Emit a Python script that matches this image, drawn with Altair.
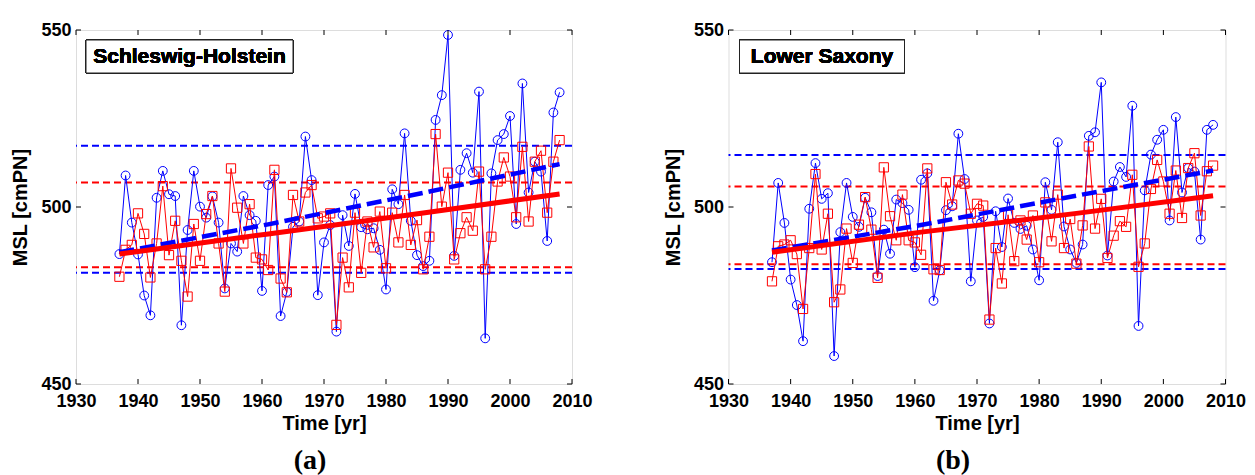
import altair as alt
import pandas as pd

years = list(range(1937, 2009))

sh_blue = [486.7, 508.9, 495.6, 486.6, 475.0, 469.4, 502.6, 510.2, 503.6, 503.1,
           466.6, 493.5, 510.2, 500.1, 497.0, 503.0, 495.6, 477.0, 489.7, 487.4,
           503.1, 497.7, 496.1, 476.3, 506.2, 508.6, 469.2, 476.0, 494.4, 495.9,
           519.9, 507.6, 475.1, 490.0, 494.9, 464.8, 497.7, 489.0, 503.7, 494.3,
           493.7, 494.0, 487.9, 476.7, 505.0, 500.8, 520.8, 496.1, 486.4, 483.3,
           484.8, 524.6, 531.6, 548.6, 486.2, 510.5, 515.2, 509.7, 532.6, 462.9,
           509.5, 518.9, 520.6, 525.7, 495.2, 534.9, 504.1, 512.8, 510.0, 490.4,
           526.7, 532.4]
sh_red = [480.3, 487.9, 489.3, 498.2, 492.4, 480.1, 489.7, 505.9, 486.4, 496.1,
          484.8, 474.7, 495.2, 484.8, 498.0, 503.1, 489.7, 476.1, 510.9, 499.8,
          489.7, 500.8, 485.7, 485.2, 482.2, 510.5, 479.8, 475.9, 503.4, 495.9,
          504.1, 506.2, 496.8, 497.3, 498.2, 466.7, 485.7, 477.3, 498.4, 481.4,
          495.9, 488.6, 498.7, 482.7, 498.4, 490.0, 503.4, 489.3, 496.3, 482.4,
          491.6, 520.6, 500.1, 509.7, 485.2, 492.6, 497.1, 493.3, 510.0, 482.4,
          491.6, 507.2, 514.0, 508.6, 497.1, 517.0, 495.9, 512.8, 515.9, 498.4,
          512.8, 518.9]
ls_blue = [484.4, 506.8, 495.5, 479.5, 472.3, 462.1, 499.5, 512.4, 502.3, 503.9,
           457.9, 492.9, 506.8, 497.2, 494.4, 502.6, 498.5, 480.5, 493.6, 486.8,
           502.1, 501.1, 499.2, 483.0, 507.7, 509.5, 473.5, 482.1, 499.1, 500.2,
           520.7, 507.9, 479.0, 496.2, 497.2, 467.1, 498.8, 488.7, 502.4, 495.5,
           493.8, 494.7, 488.0, 479.3, 507.0, 499.2, 518.3, 494.5, 488.0, 484.2,
           489.4, 520.1, 521.1, 535.2, 486.3, 507.2, 511.3, 508.5, 528.6, 466.4,
           504.7, 514.8, 519.0, 521.8, 496.2, 525.4, 504.1, 511.0, 510.0, 490.8,
           521.8, 523.2]
ls_red = [479.0, 488.9, 489.4, 490.6, 486.7, 471.2, 488.4, 509.3, 488.0, 498.1,
          473.1, 476.7, 493.9, 484.2, 495.0, 502.8, 493.6, 480.0, 511.2, 497.4,
          490.6, 503.5, 490.6, 490.0, 486.5, 510.9, 482.4, 482.2, 507.0, 500.7,
          507.5, 506.6, 498.1, 500.9, 500.4, 468.2, 488.4, 478.4, 497.8, 484.7,
          496.2, 490.8, 497.6, 484.4, 501.3, 490.3, 503.5, 488.4, 496.6, 484.0,
          494.8, 517.1, 493.9, 502.3, 485.6, 491.9, 496.0, 494.4, 509.1, 483.1,
          489.7, 505.1, 513.3, 507.2, 498.1, 510.3, 496.9, 511.0, 515.2, 497.6,
          510.1, 511.7]

trend_years = [1937, 1961, 1986, 2008]
sh_trend_blue = [487.2, 495.1, 504.0, 512.1]
sh_trend_red = [486.7, 492.4, 498.3, 503.7]
ls_trend_blue = [487.7, 494.9, 503.2, 510.3]
ls_trend_red = [487.2, 492.9, 498.2, 503.2]

sh_hlines_blue = [517.3, 481.4]
sh_hlines_red = [506.9, 483.0]
ls_hlines_blue = [514.7, 482.5]
ls_hlines_red = [505.8, 483.8]

x_ticks = [1930, 1940, 1950, 1960, 1970, 1980, 1990, 2000, 2010]
y_ticks = [450, 500, 550]
names = ["Schleswig-Holstein", "Lower Saxony"]
captions = ["(a)", "(b)"]

BLUE = "#0000ff"
RED = "#ff0000"
FONT = "Liberation Sans"
H = 354


def panel(W, blue, red, tb, tr, hb, hr, name, caption, box_x, box_w, cap_dx):
    xs = alt.Scale(domain=[1930, 2010], nice=False, zero=False)
    ys = alt.Scale(domain=[450, 550], nice=False, zero=False)
    xax = alt.Axis(values=x_ticks, format="d", ticks=False, domain=False, grid=False,
                   labelFont=FONT, labelFontSize=18, labelFontWeight="bold",
                   labelColor="black", labelPadding=8, labelFlush=False,
                   title="Time [yr]", titleFont=FONT, titleFontSize=20,
                   titleFontWeight="bold", titleColor="black", titlePadding=3)
    yax = alt.Axis(values=y_ticks, ticks=False, domain=False, grid=False,
                   labelFont=FONT, labelFontSize=18, labelFontWeight="bold",
                   labelColor="black", labelPadding=5, labelFlush=False,
                   title="MSL [cmPN]", titleFont=FONT, titleFontSize=20,
                   titleFontWeight="bold", titleColor="black", titlePadding=10)
    X = lambda f: alt.X(f, type="quantitative", scale=xs, axis=xax)
    Y = lambda f: alt.Y(f, type="quantitative", scale=ys, axis=yax)

    df = pd.DataFrame({"year": years, "blue": blue, "red": red})
    dtr = pd.DataFrame({"year": trend_years, "tb": tb, "tr": tr})
    dh = pd.DataFrame({"v": hb + hr, "c": [BLUE] * len(hb) + [RED] * len(hr)})
    dxt = pd.DataFrame({"t": x_ticks})
    dyt = pd.DataFrame({"t": y_ticks})

    hl = alt.Chart(dh).mark_rule(strokeWidth=2, strokeDash=[7, 4]).encode(
        y=Y("v"), color=alt.Color("c:N", scale=None))
    bl = alt.Chart(df).mark_line(color=BLUE, strokeWidth=1).encode(x=X("year"), y=Y("blue"))
    bp = alt.Chart(df).mark_point(shape="circle", filled=False, color=BLUE, size=78,
                                  strokeWidth=1, opacity=1).encode(x=X("year"), y=Y("blue"))
    rl = alt.Chart(df).mark_line(color=RED, strokeWidth=1).encode(x=X("year"), y=Y("red"))
    rp = alt.Chart(df).mark_point(shape="square", filled=False, color=RED, size=85,
                                  strokeWidth=1, opacity=1).encode(x=X("year"), y=Y("red"))
    tbl = alt.Chart(dtr).mark_line(color=BLUE, strokeWidth=4.5, strokeDash=[15, 6]).encode(
        x=X("year"), y=Y("tb"))
    trl = alt.Chart(dtr).mark_line(color=RED, strokeWidth=5).encode(x=X("year"), y=Y("tr"))

    xt_bot = alt.Chart(dxt).mark_rule(color="black", strokeWidth=1).encode(
        x=X("t"), y=alt.value(H), y2=alt.value(H - 5))
    xt_top = alt.Chart(dxt).mark_rule(color="black", strokeWidth=1).encode(
        x=X("t"), y=alt.value(0), y2=alt.value(5))
    yt_l = alt.Chart(dyt).mark_rule(color="black", strokeWidth=1).encode(
        y=Y("t"), x=alt.value(0), x2=alt.value(5))
    yt_r = alt.Chart(dyt).mark_rule(color="black", strokeWidth=1).encode(
        y=Y("t"), x=alt.value(W), x2=alt.value(W - 5))

    box = alt.Chart(dxt).mark_rect(fill="white", stroke="#222222", strokeWidth=1).encode(
        x=alt.value(box_x), x2=alt.value(box_x + box_w), y=alt.value(10), y2=alt.value(43))
    txt = alt.Chart(dxt).mark_text(font=FONT, fontSize=21, fontWeight="bold", color="black",
                                   align="center", baseline="middle").encode(
        x=alt.value(box_x + box_w / 2), y=alt.value(27), text=alt.value(name))

    return alt.layer(hl, bl, bp, rl, rp, tbl, trl, xt_bot, xt_top, yt_l, yt_r, box, txt).properties(
        width=W, height=H,
        title=alt.TitleParams(caption, orient="bottom", font="Liberation Serif", fontSize=28,
                              fontWeight="bold", color="black", frame="group",
                              anchor="middle", dx=cap_dx, offset=14))


pa = panel(496, sh_blue, sh_red, sh_trend_blue, sh_trend_red, sh_hlines_blue, sh_hlines_red,
           names[0], captions[0], 10, 207, -14)
pb = panel(497, ls_blue, ls_red, ls_trend_blue, ls_trend_red, ls_hlines_blue, ls_hlines_red,
           names[1], captions[1], 11, 165, -24)

chart = alt.hconcat(pa, pb, spacing=156.5, bounds="flush").properties(
    padding={"left": 10, "top": 20, "right": 5, "bottom": 0}
).configure_view(stroke="black", strokeWidth=1).configure(background="white")

chart.save("out.html", embed_options={"renderer": "svg", "actions": False})
